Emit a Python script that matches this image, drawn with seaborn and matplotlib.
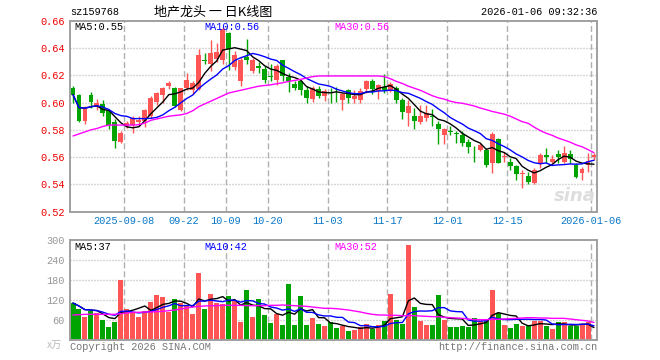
import numpy as np
import pandas as pd
import matplotlib
matplotlib.use("Agg")
import matplotlib.pyplot as plt
import seaborn as sns

# ---------------- data ----------------
opens = [0.6108, 0.6058, 0.5863, 0.6053, 0.5970, 0.5993, 0.5943, 0.5855, 0.5710, 0.5830,
         0.5838, 0.5855, 0.5868, 0.5905, 0.6005, 0.6055, 0.6123, 0.6105, 0.5943, 0.6105,
         0.6093, 0.6100, 0.6312, 0.6280, 0.6320, 0.6310, 0.6510, 0.6260, 0.6155, 0.6335,
         0.6230, 0.6270, 0.6245, 0.6193, 0.6167, 0.6310, 0.6190, 0.6137, 0.6155, 0.6089,
         0.6025, 0.6100, 0.6045, 0.6088, 0.6072, 0.6016, 0.6090, 0.6028, 0.6020, 0.6100,
         0.6160, 0.6082, 0.6113, 0.6085, 0.6110, 0.6020, 0.5923, 0.5904, 0.5860, 0.5890,
         0.5900, 0.5845, 0.5759, 0.5790, 0.5778, 0.5764, 0.5710, 0.5677, 0.5650, 0.5655,
         0.5555, 0.5730, 0.5603, 0.5562, 0.5535, 0.5478, 0.5460, 0.5410, 0.5550, 0.5617,
         0.5563, 0.5625, 0.5562, 0.5625, 0.5542, 0.5485, 0.5545, 0.5600]
closes = [0.6058, 0.5868, 0.5950, 0.6003, 0.6000, 0.5923, 0.5838, 0.5718, 0.5780, 0.5850,
          0.5890, 0.5875, 0.5943, 0.6030, 0.6068, 0.6105, 0.6143, 0.5973, 0.6105, 0.6168,
          0.6143, 0.6350, 0.6305, 0.6360, 0.6370, 0.6540, 0.6390, 0.6350, 0.6310, 0.6315,
          0.6310, 0.6253, 0.6162, 0.6187, 0.6270, 0.6192, 0.6160, 0.6108, 0.6094, 0.6030,
          0.6106, 0.6051, 0.6086, 0.6083, 0.6068, 0.6063, 0.6030, 0.6045, 0.6085, 0.6160,
          0.6102, 0.6131, 0.6095, 0.6135, 0.6020, 0.5928, 0.5977, 0.5862, 0.5899, 0.5923,
          0.5895, 0.5806, 0.5808, 0.5785, 0.5772, 0.5703, 0.5675, 0.5673, 0.5692, 0.5543,
          0.5768, 0.5560, 0.5607, 0.5537, 0.5475, 0.5485, 0.5418, 0.5505, 0.5618, 0.5600,
          0.5585, 0.5600, 0.5630, 0.5585, 0.5455, 0.5510, 0.5575, 0.5615]
highs = [0.6118, 0.6063, 0.5973, 0.6080, 0.6027, 0.6017, 0.5948, 0.5880, 0.5795, 0.5865,
         0.5905, 0.5900, 0.5955, 0.6050, 0.6080, 0.6115, 0.6155, 0.6115, 0.6110, 0.6218,
         0.6155, 0.6390, 0.6360, 0.6460, 0.6437, 0.6555, 0.6520, 0.6375, 0.6335, 0.6468,
         0.6330, 0.6300, 0.6270, 0.6280, 0.6280, 0.6315, 0.6220, 0.6155, 0.6165, 0.6120,
         0.6120, 0.6120, 0.6100, 0.6110, 0.6114, 0.6070, 0.6100, 0.6095, 0.6107, 0.6165,
         0.6170, 0.6135, 0.6212, 0.6150, 0.6120, 0.6035, 0.6020, 0.5960, 0.5984, 0.5984,
         0.5953, 0.5862, 0.5810, 0.5830, 0.5795, 0.5795, 0.5730, 0.5680, 0.5705, 0.5665,
         0.5785, 0.5740, 0.5640, 0.5592, 0.5545, 0.5505, 0.5493, 0.5518, 0.5630, 0.5667,
         0.5617, 0.5655, 0.5680, 0.5655, 0.5555, 0.5530, 0.5630, 0.5630]
lows = [0.5998, 0.5855, 0.5845, 0.5963, 0.5943, 0.5905, 0.5805, 0.5670, 0.5705, 0.5810,
        0.5780, 0.5830, 0.5818, 0.5890, 0.5980, 0.6000, 0.6100, 0.5968, 0.5935, 0.6090,
        0.6065, 0.6090, 0.6280, 0.6228, 0.6300, 0.6280, 0.6240, 0.6240, 0.6120, 0.6285,
        0.6215, 0.6215, 0.6140, 0.6155, 0.6130, 0.6155, 0.6075, 0.6093, 0.6057, 0.6000,
        0.6005, 0.6030, 0.6013, 0.6000, 0.6004, 0.5948, 0.6000, 0.6000, 0.6000, 0.6070,
        0.6063, 0.6028, 0.6070, 0.6075, 0.6000, 0.5882, 0.5830, 0.5806, 0.5845, 0.5868,
        0.5825, 0.5698, 0.5698, 0.5759, 0.5700, 0.5678, 0.5630, 0.5567, 0.5642, 0.5530,
        0.5485, 0.5555, 0.5562, 0.5505, 0.5430, 0.5375, 0.5405, 0.5405, 0.5518, 0.5555,
        0.5555, 0.5555, 0.5555, 0.5555, 0.5445, 0.5430, 0.5492, 0.5580]
volumes = [111, 93, 69, 87, 81, 60, 39, 54, 180, 93,
           81, 69, 87, 114, 135, 129, 84, 123, 111, 102,
           78, 201, 93, 138, 111, 108, 132, 118, 54, 150,
           69, 123, 75, 51, 78, 45, 168, 45, 132, 45,
           66, 48, 42, 54, 36, 42, 27, 30, 39, 48,
           33, 45, 57, 138, 60, 48, 285, 99, 57, 45,
           45, 135, 60, 39, 39, 42, 39, 66, 57, 57,
           150, 81, 45, 36, 48, 42, 42, 57, 57, 42,
           33, 54, 54, 42, 42, 45, 54, 3]
ma30_price = [0.5755, 0.5770, 0.5785, 0.5800, 0.5810, 0.5825, 0.5835, 0.5835, 0.5835, 0.5835,
              0.5835, 0.5838, 0.5850, 0.5870, 0.5880, 0.5890, 0.5900, 0.5905, 0.5910, 0.5920,
              0.5940, 0.5970, 0.5990, 0.6010, 0.6030, 0.6050, 0.6070, 0.6080, 0.6090, 0.6100,
              0.6110, 0.6120, 0.6125, 0.6130, 0.6138, 0.6145, 0.6155, 0.6162, 0.6170, 0.6180,
              0.6190, 0.6195, 0.6195, 0.6195, 0.6195, 0.6195, 0.6195, 0.6195, 0.6195, 0.6195,
              0.6195, 0.6195, 0.6190, 0.6175, 0.6155, 0.6140, 0.6120, 0.6105, 0.6090, 0.6070,
              0.6050, 0.6035, 0.6025, 0.6010, 0.6000, 0.5995, 0.5985, 0.5975, 0.5960, 0.5948,
              0.5935, 0.5925, 0.5915, 0.5900, 0.5880, 0.5860, 0.5848, 0.5820, 0.5795, 0.5775,
              0.5760, 0.5740, 0.5725, 0.5710, 0.5690, 0.5676, 0.5655, 0.5632]
ma30_volume = [75, 76, 77, 77, 77, 77, 77, 77, 79, 81,
               83, 83, 84, 84, 85, 86, 88, 90, 93, 96,
               99, 101, 102, 103, 103, 104, 104, 104, 104, 103,
               103, 103, 103, 104, 104, 105, 104, 103, 102, 101,
               99, 97, 95, 95, 94, 92, 90, 87, 84, 80,
               77, 75, 75, 74, 74, 73, 73, 73, 72, 71,
               70, 70, 68, 67, 66, 65, 63, 61, 61, 61,
               62, 62, 63, 64, 65, 66, 67, 67, 66, 66,
               65, 65, 65, 63, 61, 59, 57, 52.5]
tick_bars = [9, 19, 26, 33, 43, 53, 63, 73, 87]
tick_labels = ["2025-09-08", "09-22", "10-09", "10-20", "11-03",
               "11-17", "12-01", "12-15", "2026-01-06"]
price_ticks = [0.52, 0.54, 0.56, 0.58, 0.60, 0.62, 0.64, 0.66]
volume_ticks = [60, 120, 180, 240, 300]

# ---------------- frame ----------------
n = len(closes)
df = pd.DataFrame({"i": np.arange(n), "open": opens, "close": closes,
                   "high": highs, "low": lows, "vol": volumes,
                   "ma30": ma30_price, "vma30": ma30_volume})
df["ma5"] = df["close"].rolling(5, min_periods=1).mean()
df["ma10"] = df["close"].rolling(10, min_periods=1).mean()
df["vma5"] = df["vol"].rolling(5, min_periods=1).mean()
df["vma10"] = df["vol"].rolling(10, min_periods=1).mean()
df["dir"] = np.where(df["close"] >= df["open"], "up", "down")

RED = "#ff5555"
GREEN = "#00a400"
MONO = "Liberation Mono"

sns.set_theme(style="white")
plt.rcParams["font.family"] = [MONO, "DejaVu Sans"]

W, H = 660, 360
fig = plt.figure(figsize=(W / 100, H / 100), dpi=100)
fig.patch.set_facecolor("white")
ax = fig.add_axes([70 / W, 1 - 211.7 / H, 527 / W, 191 / H])
ax2 = fig.add_axes([70 / W, 1 - 340 / H, 527 / W, 100 / H])

dot = (0, (0.72, 1.44))
dash = (0, (4.3, 2.2))
for a in (ax, ax2):
    a.set_facecolor("white")
    a.set_xlim(-0.5, n - 0.5)
    for s in a.spines.values():
        s.set_color("#a0a0a0")
        s.set_linewidth(1.4)
    for t in tick_bars:
        a.axvline(t - 0.5, color="#b0b0b0", lw=1.0, ls=dash, zorder=0)

# ---------------- candles ----------------
colors = np.where(df["dir"] == "up", RED, GREEN)
ax.vlines(df["i"], df["low"], df["high"], colors=colors, lw=1.0, zorder=2)
body_bottom = np.minimum(df["open"], df["close"])
body_h = np.maximum(np.abs(df["close"] - df["open"]), 0.00035)
ax.bar(df["i"], body_h, bottom=body_bottom, width=0.82, color=colors,
       linewidth=0, zorder=3)

sns.lineplot(data=df, x="i", y="ma5", color="black", lw=1.0, ax=ax, zorder=4)
sns.lineplot(data=df, x="i", y="ma10", color="#0000ff", lw=1.0, ax=ax, zorder=4)
sns.lineplot(data=df, x="i", y="ma30", color="#ff00ff", lw=1.0, ax=ax, zorder=4)

ax.set_ylim(0.52, 0.66)
ax.set_yticks(price_ticks)
ax.set_yticklabels([f"{v:.2f}" for v in price_ticks])
for v in price_ticks[1:-1]:
    ax.axhline(v, color="#b0b0b0", lw=1.0, ls=dot, zorder=0)
ax.set_xticks([t - 0.5 for t in tick_bars])
ax.set_xticklabels(tick_labels)
ax.tick_params(axis="y", length=0, pad=4, labelsize=7.4, labelcolor="#ee0000")
ax.tick_params(axis="x", length=0, pad=3, labelsize=7.4, labelcolor="#0a78c8")
ax.set_xlabel("")
ax.set_ylabel("")

# ---------------- volume ----------------
sns.barplot(data=df, x="i", y="vol", hue="dir", palette={"up": RED, "down": GREEN},
            native_scale=True, dodge=False, width=0.84, saturation=1,
            legend=False, ax=ax2, zorder=2, linewidth=0)
sns.lineplot(data=df, x="i", y="vma5", color="black", lw=1.0, ax=ax2, zorder=4)
sns.lineplot(data=df, x="i", y="vma10", color="#0000ff", lw=1.0, ax=ax2, zorder=4)
sns.lineplot(data=df, x="i", y="vma30", color="#ff00ff", lw=1.0, ax=ax2, zorder=4)
ax2.set_xlim(-0.5, n - 0.5)
ax2.set_ylim(0, 300)
ax2.set_yticks(volume_ticks)
ax2.set_yticklabels([str(v) for v in volume_ticks])
for v in volume_ticks[:-1]:
    ax2.axhline(v, color="#b0b0b0", lw=1.0, ls=dot, zorder=0)
ax2.set_xticks([])
ax2.tick_params(axis="y", length=0, pad=4, labelsize=7.4, labelcolor="#999999")
ax2.set_xlabel("")
ax2.set_ylabel("")


def ftext(x, y, s, **kw):
    fig.text(x / W, 1 - y / H, s, va="center", **kw)


# ---------------- texts ----------------
ftext(70, 12, "sz159768", ha="left", fontsize=7.4, color="black")
ftext(213, 12, "地产龙头 一 日K线图", ha="center", fontsize=9.4, color="black",
      family=["Noto Sans CJK SC", "DejaVu Sans"])
ftext(597, 12, "2026-01-06 09:32:36", ha="right", fontsize=7.4, color="black")

ftext(74, 27, f"MA5:{df['ma5'].iloc[-1]:.2f}", ha="left", fontsize=7.4, color="black")
ftext(204, 27, f"MA10:{df['ma10'].iloc[-1]:.2f}", ha="left", fontsize=7.4, color="#0000ff")
ftext(334, 27, f"MA30:{df['ma30'].iloc[-1]:.2f}", ha="left", fontsize=7.4, color="#ff00ff")

ftext(74, 247, f"MA5:{int(df['vma5'].iloc[-1])}", ha="left", fontsize=7.4, color="black")
ftext(204, 247, f"MA10:{int(df['vma10'].iloc[-1])}", ha="left", fontsize=7.4, color="#0000ff")
ftext(334, 247, f"MA30:{int(df['vma30'].iloc[-1])}", ha="left", fontsize=7.4, color="#ff00ff")

ftext(47, 345, "x万", ha="left", fontsize=7.4, color="#bbbbbb",
      family=["Noto Sans CJK SC", "DejaVu Sans"])
ftext(70, 347, "Copyright 2026 SINA.COM", ha="left", fontsize=7.4, color="#777777")
ftext(597, 347, "http://finance.sina.com.cn", ha="right", fontsize=7.4, color="#777777")
ftext(596, 196, "sina", ha="right", fontsize=13, color="#dddddd",
      fontstyle="italic", fontweight="bold", family=["DejaVu Sans"])

fig.savefig("out.png", dpi=100, facecolor="white")
